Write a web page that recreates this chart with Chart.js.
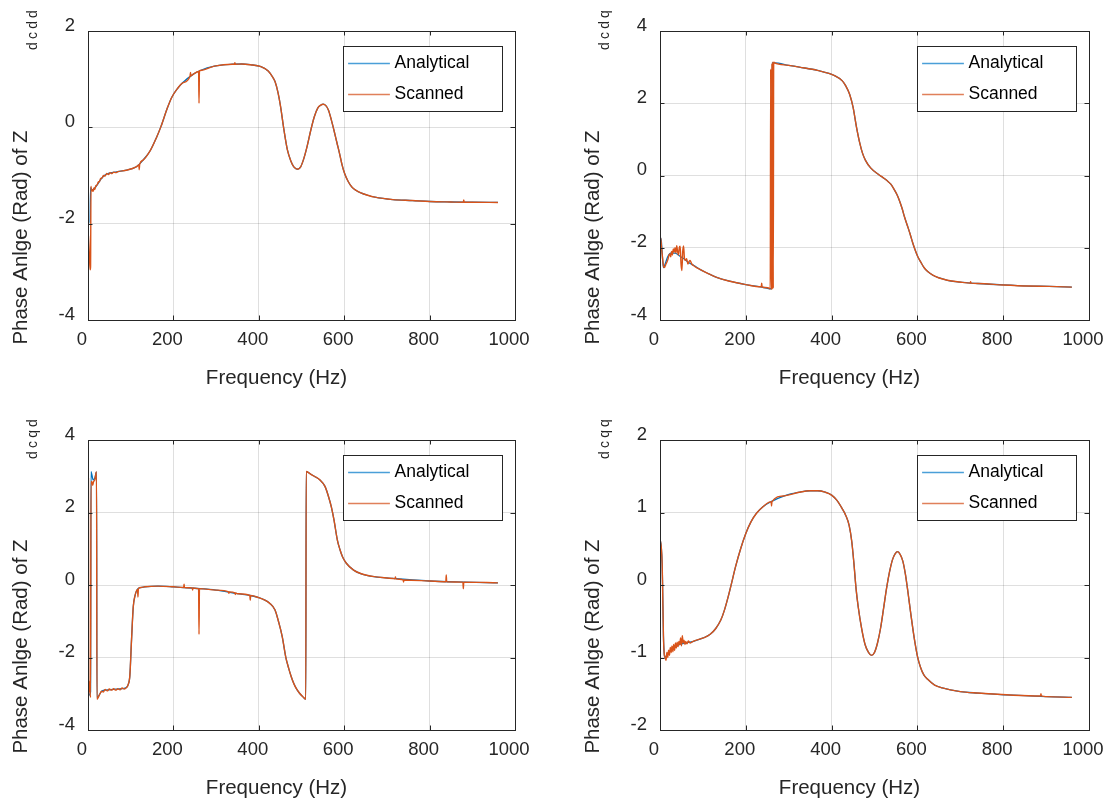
<!DOCTYPE html>
<html>
<head>
<meta charset="utf-8">
<title>Phase angle of Z</title>
<script src="https://cdn.jsdelivr.net/npm/chart.js@4.4.0/dist/chart.umd.min.js"></script>
<style>
  html, body { margin: 0; padding: 0; background: #fff; width: 1107px; height: 805px; overflow: hidden; position: relative; }
  canvas { position: absolute; }
</style>
</head>
<body>
<canvas id="dcdd" width="553" height="405" style="left:0;top:0"></canvas>
<canvas id="dcdq" width="580" height="405" style="left:553px;top:0"></canvas>
<canvas id="dcqd" width="553" height="400" style="left:0;top:405px"></canvas>
<canvas id="dcqq" width="580" height="400" style="left:553px;top:405px"></canvas>
<script>
// ---- data (frequency in Hz, phase in rad) ----
const xTicks = [0, 200, 400, 600, 800, 1000];

// dcdd
const freqDcddA = [5, 6, 10, 15, 21, 30, 38, 50, 70, 90, 113, 129, 146, 160, 171, 185, 196, 210, 221, 246, 263, 296, 338, 360, 380, 405, 422, 432, 438, 445, 451, 459, 467, 475, 482, 491, 498, 505, 513, 522, 530, 538, 545, 551, 557, 563, 570, 576, 583, 589, 595, 601, 609, 618, 628, 639, 655, 672, 714, 760, 800, 850, 900, 960];
const dcddAnalytical = [-1.98, -1.25, -1.3, -1.27, -1.2, -1.08, -1.0, -0.95, -0.92, -0.89, -0.82, -0.68, -0.48, -0.22, 0.02, 0.38, 0.62, 0.81, 0.92, 1.1, 1.18, 1.27, 1.31, 1.315, 1.3, 1.26, 1.17, 1.05, 0.95, 0.72, 0.43, -0.06, -0.47, -0.7, -0.82, -0.87, -0.82, -0.66, -0.4, -0.05, 0.22, 0.4, 0.46, 0.48, 0.45, 0.36, 0.15, -0.06, -0.32, -0.54, -0.78, -0.96, -1.12, -1.24, -1.31, -1.36, -1.41, -1.45, -1.5, -1.52, -1.54, -1.55, -1.555, -1.56];
const freqDcddS = [1, 3, 5, 6, 7, 8, 10, 12, 14, 16, 18, 21, 24, 27, 30, 33, 36, 40, 44, 48, 52, 56, 60, 65, 70, 90, 113, 119, 120, 121, 129, 146, 160, 171, 185, 196, 210, 221, 239, 240, 241, 246, 259, 260, 261, 263, 296, 338, 343, 344, 345, 360, 380, 405, 422, 432, 438, 445, 451, 459, 467, 475, 482, 491, 498, 505, 513, 522, 530, 538, 545, 551, 557, 563, 570, 576, 583, 589, 595, 601, 609, 618, 628, 639, 655, 672, 714, 760, 800, 850, 879, 880, 881, 900, 960];
const dcddScanned = [-2.25, -2.6, -2.96, -2.9, -1.22, -1.32, -1.3, -1.33, -1.26, -1.29, -1.22, -1.2, -1.14, -1.12, -1.06, -1.05, -1.0, -1.01, -0.96, -0.98, -0.94, -0.96, -0.93, -0.94, -0.92, -0.89, -0.82, -0.78, -0.88, -0.77, -0.68, -0.48, -0.22, 0.02, 0.38, 0.62, 0.81, 0.92, 1.06, 1.14, 1.07, 1.1, 1.16, 0.5, 1.17, 1.18, 1.27, 1.31, 1.31, 1.34, 1.31, 1.315, 1.3, 1.26, 1.17, 1.05, 0.95, 0.72, 0.43, -0.06, -0.47, -0.7, -0.82, -0.87, -0.82, -0.66, -0.4, -0.05, 0.22, 0.4, 0.46, 0.48, 0.45, 0.36, 0.15, -0.06, -0.32, -0.54, -0.78, -0.96, -1.12, -1.24, -1.31, -1.36, -1.41, -1.45, -1.5, -1.52, -1.54, -1.55, -1.555, -1.51, -1.555, -1.555, -1.56];

// dcdq
const freqDcdqA = [1, 3, 6, 8, 12, 18, 25, 35, 45, 55, 66, 80, 93, 110, 132, 160, 200, 242, 260, 261, 267, 300, 325, 367, 408, 425, 433, 442, 450, 458, 466, 472, 479, 491, 508, 520, 529, 538, 545, 552, 558, 564, 570, 577, 583, 589, 595, 601, 608, 615, 624, 636, 649, 670, 699, 741, 800, 860, 907, 960];
const dcdqAnalytical = [-1.72, -1.8, -2.3, -2.55, -2.45, -2.25, -2.15, -2.15, -2.22, -2.3, -2.4, -2.5, -2.6, -2.7, -2.82, -2.92, -3.02, -3.1, -3.14, 3.12, 3.12, 3.05, 3.0, 2.91, 2.76, 2.62, 2.48, 2.25, 1.89, 1.34, 0.88, 0.62, 0.42, 0.21, 0.04, -0.06, -0.14, -0.24, -0.37, -0.52, -0.69, -0.9, -1.15, -1.4, -1.62, -1.86, -2.07, -2.25, -2.4, -2.54, -2.66, -2.76, -2.83, -2.9, -2.95, -2.99, -3.03, -3.06, -3.07, -3.09];
const freqDcdqS = [0.5, 1.5, 4, 8, 10, 14, 16, 19, 21, 23, 25, 27, 29, 31, 33, 35, 37, 39, 41, 43, 45, 47, 49, 51, 53, 55, 57, 59, 62, 65, 68, 70, 74, 78, 85, 93, 110, 132, 160, 200, 236, 237, 238, 242, 256, 257, 258, 259, 260, 261, 262, 263, 264, 265, 267, 300, 325, 367, 408, 425, 433, 442, 450, 458, 466, 472, 479, 491, 508, 520, 529, 538, 545, 552, 558, 564, 570, 577, 583, 589, 595, 601, 608, 615, 624, 636, 649, 670, 699, 723, 724, 725, 741, 800, 860, 907, 960];
const dcdqScanned = [-1.8, -1.72, -2.05, -2.5, -2.55, -2.45, -2.4, -2.3, -2.2, -2.17, -2.25, -2.1, -2.2, -2.03, -2.12, -2.0, -2.15, -1.94, -2.1, -2.2, -2.0, -1.96, -2.45, -2.63, -2.1, -1.95, -2.3, -2.35, -2.3, -2.45, -2.38, -2.35, -2.45, -2.49, -2.55, -2.6, -2.7, -2.82, -2.92, -3.02, -3.08, -2.98, -3.08, -3.1, -3.13, -3.14, 2.95, -3.15, -3.15, 3.1, -3.15, 3.15, -3.12, 3.14, 3.12, 3.05, 3.0, 2.91, 2.76, 2.62, 2.48, 2.25, 1.89, 1.34, 0.88, 0.62, 0.42, 0.21, 0.04, -0.06, -0.14, -0.24, -0.37, -0.52, -0.69, -0.9, -1.15, -1.4, -1.62, -1.86, -2.07, -2.25, -2.4, -2.54, -2.66, -2.76, -2.83, -2.9, -2.95, -2.98, -2.94, -2.98, -2.99, -3.03, -3.06, -3.07, -3.09];

// dcqd
const freqDcqdA = [1, 6, 7, 12, 16, 20, 21, 24, 28, 32, 40, 50, 60, 70, 80, 90, 94, 98, 102, 106, 110, 117, 124, 133, 164, 200, 250, 300, 350, 380, 400, 413, 425, 438, 446, 455, 463, 470, 476, 482, 488, 495, 503, 510, 511, 520, 530, 543, 555, 563, 570, 576, 584, 590, 596, 605, 622, 640, 670, 714, 800, 881, 960];
const dcqdAnalytical = [-3.05, -2.95, 3.13, 2.9, 2.95, 3.12, -3.12, -3.08, -3.0, -2.93, -2.9, -2.89, -2.88, -2.87, -2.86, -2.83, -2.75, -2.5, -1.5, -0.6, -0.3, -0.1, -0.07, -0.05, -0.03, -0.05, -0.09, -0.14, -0.24, -0.29, -0.35, -0.41, -0.5, -0.69, -1.0, -1.43, -1.98, -2.3, -2.53, -2.72, -2.86, -2.98, -3.08, -3.15, 3.13, 3.07, 3.0, 2.9, 2.72, 2.45, 2.15, 1.8, 1.24, 0.98, 0.78, 0.6, 0.41, 0.31, 0.23, 0.18, 0.11, 0.08, 0.06];
const freqDcqdS = [1, 2, 3, 4, 6, 7, 9, 11, 13, 16, 19, 20, 21, 24, 28, 32, 36, 40, 45, 50, 55, 60, 65, 70, 75, 80, 85, 90, 94, 98, 102, 106, 110, 116, 117, 118, 124, 133, 164, 200, 224, 225, 226, 244, 245, 246, 250, 259, 260, 261, 300, 329, 330, 331, 344, 345, 346, 350, 379, 380, 381, 400, 413, 425, 438, 446, 455, 463, 470, 476, 482, 488, 495, 503, 510, 511, 520, 530, 543, 555, 563, 570, 576, 584, 590, 596, 605, 622, 640, 670, 714, 719, 720, 721, 738, 739, 740, 800, 838, 839, 840, 878, 879, 880, 960];
const dcqdScanned = [2.95, -2.95, -2.65, -2.85, -3.1, 2.85, 2.85, 2.75, 2.85, 2.9, 3.1, 3.12, -3.15, -3.1, -3.0, -2.93, -2.95, -2.88, -2.92, -2.87, -2.9, -2.86, -2.9, -2.86, -2.89, -2.84, -2.87, -2.83, -2.75, -2.5, -1.5, -0.6, -0.3, -0.12, -0.33, -0.1, -0.07, -0.05, -0.03, -0.05, -0.07, 0.02, -0.07, -0.08, -0.14, -0.08, -0.09, -0.1, -1.36, -0.1, -0.14, -0.19, -0.23, -0.19, -0.22, -0.26, -0.22, -0.24, -0.29, -0.42, -0.29, -0.35, -0.41, -0.5, -0.69, -1.0, -1.43, -1.98, -2.3, -2.53, -2.72, -2.86, -2.98, -3.08, -3.15, 3.13, 3.07, 3.0, 2.9, 2.72, 2.45, 2.15, 1.8, 1.24, 0.98, 0.78, 0.6, 0.41, 0.31, 0.23, 0.18, 0.17, 0.22, 0.17, 0.14, 0.08, 0.14, 0.11, 0.09, 0.28, 0.09, 0.08, -0.1, 0.08, 0.06];

// dcqq
const freqDcqqA = [0.5, 3, 5, 6, 8, 10, 12, 17, 25, 42, 60, 76, 101, 117, 130, 142, 150, 159, 167, 176, 188, 200, 212, 225, 240, 259, 290, 325, 350, 367, 385, 400, 412, 425, 433, 441, 447, 452, 457, 462, 470, 478, 486, 493, 500, 507, 514, 521, 528, 535, 542, 548, 554, 560, 566, 572, 578, 584, 590, 595, 600, 607, 615, 624, 640, 658, 700, 741, 824, 900, 960];
const dcqqAnalytical = [0.62, 0.52, 0.3, 0.0, -0.7, -0.96, -1.0, -0.95, -0.9, -0.83, -0.8, -0.78, -0.73, -0.68, -0.6, -0.48, -0.35, -0.16, 0.03, 0.25, 0.5, 0.71, 0.87, 0.99, 1.08, 1.15, 1.23, 1.28, 1.3, 1.3, 1.28, 1.24, 1.17, 1.05, 0.96, 0.82, 0.6, 0.3, -0.05, -0.3, -0.6, -0.82, -0.93, -0.97, -0.93, -0.8, -0.6, -0.33, -0.05, 0.18, 0.35, 0.43, 0.46, 0.42, 0.33, 0.15, -0.1, -0.37, -0.63, -0.82, -0.98, -1.13, -1.24, -1.3, -1.38, -1.42, -1.47, -1.49, -1.52, -1.54, -1.55];
const freqDcqqS = [0.5, 3, 5, 6, 8, 10, 12, 14, 16, 18, 20, 22, 24, 26, 28, 30, 32, 34, 36, 38, 40, 42, 44, 46, 48, 50, 52, 54, 56, 58, 60, 63, 66, 70, 76, 101, 117, 130, 142, 150, 159, 167, 176, 188, 200, 212, 225, 240, 259, 260, 261, 290, 325, 350, 367, 385, 400, 412, 425, 433, 441, 447, 452, 457, 462, 470, 478, 486, 493, 500, 507, 514, 521, 528, 535, 542, 548, 554, 560, 566, 572, 578, 584, 590, 595, 600, 607, 615, 624, 640, 658, 700, 741, 824, 887, 888, 889, 900, 960];
const dcqqScanned = [0.62, 0.52, 0.3, 0.0, -0.7, -0.96, -1.0, -1.04, -0.93, -1.0, -0.9, -0.97, -0.86, -0.93, -0.84, -0.92, -0.82, -0.9, -0.8, -0.87, -0.79, -0.85, -0.78, -0.82, -0.73, -0.84, -0.7, -0.8, -0.76, -0.82, -0.78, -0.81, -0.77, -0.8, -0.78, -0.73, -0.68, -0.6, -0.48, -0.35, -0.16, 0.03, 0.25, 0.5, 0.71, 0.87, 0.99, 1.08, 1.15, 1.09, 1.15, 1.23, 1.28, 1.3, 1.3, 1.28, 1.24, 1.17, 1.05, 0.96, 0.82, 0.6, 0.3, -0.05, -0.3, -0.6, -0.82, -0.93, -0.97, -0.93, -0.8, -0.6, -0.33, -0.05, 0.18, 0.35, 0.43, 0.46, 0.42, 0.33, 0.15, -0.1, -0.37, -0.63, -0.82, -0.98, -1.13, -1.24, -1.3, -1.38, -1.42, -1.47, -1.49, -1.52, -1.53, -1.5, -1.53, -1.54, -1.55];

const FONT = "'Liberation Sans', Arial, Helvetica, sans-serif";
const TEXT = '#262626';
const BLUE = '#0072BD';
const ORANGE = '#D95319';

// axes frame, inner ticks, labels and legend drawn MATLAB style
const matlabFrame = {
  id: 'matlabFrame',
  afterDraw(chart, args, opts) {
    const { ctx, chartArea: a } = chart;
    const xs = chart.scales.x, ys = chart.scales.y;
    ctx.save();
    ctx.strokeStyle = TEXT;
    ctx.lineWidth = 1;
    ctx.beginPath();
    xs.ticks.forEach(t => {
      const px = Math.round(xs.getPixelForValue(t.value)) + 0.5;
      ctx.moveTo(px, a.bottom); ctx.lineTo(px, a.bottom - 4.5);
      ctx.moveTo(px, a.top); ctx.lineTo(px, a.top + 4.5);
    });
    ys.ticks.forEach(t => {
      const py = Math.round(ys.getPixelForValue(t.value)) + 0.5;
      ctx.moveTo(a.left, py); ctx.lineTo(a.left + 4.5, py);
      ctx.moveTo(a.right, py); ctx.lineTo(a.right - 4.5, py);
    });
    ctx.stroke();
    ctx.strokeRect(Math.round(a.left) + 0.5, Math.round(a.top) + 0.5,
      Math.round(a.right - a.left), Math.round(a.bottom - a.top));

    // legend
    const lw = 158.8, lh = 65.3;
    const lx = Math.round(a.right - 13.5 - lw) + 0.5, ly = Math.round(a.top + 14.7) + 0.5;
    ctx.fillStyle = '#fff';
    ctx.fillRect(lx, ly, lw, lh);
    ctx.strokeStyle = TEXT;
    ctx.strokeRect(lx, ly, Math.round(lw), Math.round(lh));
    ctx.font = '17.5px ' + FONT;
    ctx.textBaseline = 'middle';
    ctx.textAlign = 'left';
    const legendColors = ['#4a9fd8', '#e0805a'];
    chart.data.datasets.forEach((ds, i) => {
      const ry = Math.round(ly + 16 + i * 31) + 0.5;
      ctx.strokeStyle = legendColors[i];
      ctx.lineWidth = 1.5;
      ctx.beginPath();
      ctx.moveTo(lx + 4.6, ry); ctx.lineTo(lx + 46.4, ry);
      ctx.stroke();
      ctx.fillStyle = '#000';
      ctx.fillText(ds.label, lx + 51, ry);
    });

    // axis titles
    ctx.fillStyle = TEXT;
    ctx.font = '20.5px ' + FONT;
    ctx.textAlign = 'center';
    ctx.fillText('Frequency (Hz)', (a.left + a.right) / 2 - 25, a.bottom + 58);
    ctx.save();
    ctx.translate(a.left - 67, a.top + 206.5);
    ctx.rotate(-Math.PI / 2);
    ctx.fillText('Phase Anlge (Rad) of Z', 0, 0);
    ctx.restore();

    // subscript, spread out
    ctx.save();
    ctx.translate(a.left - 55, a.top + 21);
    ctx.rotate(-Math.PI / 2);
    ctx.font = '14px ' + FONT;
    opts.sub.split('').forEach((ch, i) => ctx.fillText(ch, 6 + i * 10.6, 0));
    ctx.restore();
    ctx.restore();
  }
};

const pts = (f, v) => f.map((x, i) => ({ x: x, y: v[i] }));

function makeChart(id, box, x0, y0, w, h, freqA, valA, freqS, valS, yMin, yMax, yStep) {
  const ctx = document.getElementById(id).getContext('2d');
  return new Chart(ctx, {
    type: 'line',
    data: {
      datasets: [
        { label: 'Analytical', data: pts(freqA, valA), borderColor: BLUE, borderWidth: 1.3,
          pointRadius: 0, cubicInterpolationMode: 'monotone', order: 2 },
        { label: 'Scanned', data: pts(freqS, valS), borderColor: ORANGE, borderWidth: 1.4,
          pointRadius: 0, cubicInterpolationMode: 'monotone', order: 1 }
      ]
    },
    options: {
      responsive: false,
      animation: false,
      devicePixelRatio: 1,
      layout: { padding: { left: 0, top: box[1] - y0, right: x0 + w - box[2], bottom: 0 } },
      plugins: { legend: { display: false }, tooltip: { enabled: false }, matlabFrame: { sub: id } },
      scales: {
        x: {
          type: 'linear', min: 0, max: 1000,
          afterBuildTicks: s => { s.ticks = xTicks.map(v => ({ value: v })); },
          ticks: { autoSkip: false, maxRotation: 0, padding: 9, labelOffset: -6, color: TEXT,
                   font: { family: FONT, size: 18.5 }, callback: v => String(v) },
          grid: { color: 'rgba(38,38,38,0.15)', drawTicks: false },
          border: { display: false },
          afterFit: s => { s.height = y0 + h - box[3]; }
        },
        y: {
          min: yMin, max: yMax,
          ticks: { stepSize: yStep, padding: 13, labelOffset: -5.5, color: TEXT,
                   font: { family: FONT, size: 18.5 }, callback: v => String(v) },
          grid: { color: 'rgba(38,38,38,0.15)', drawTicks: false },
          border: { display: false },
          afterFit: s => { s.width = box[0] - x0; }
        }
      }
    },
    plugins: [matlabFrame]
  });
}

makeChart('dcdd', [88, 31, 515, 320], 0, 0, 553, 405, freqDcddA, dcddAnalytical, freqDcddS, dcddScanned, -4, 2, 2);
makeChart('dcdq', [660, 31, 1089, 320], 553, 0, 580, 405, freqDcdqA, dcdqAnalytical, freqDcdqS, dcdqScanned, -4, 4, 2);
makeChart('dcqd', [88, 440, 515, 730], 0, 405, 553, 400, freqDcqdA, dcqdAnalytical, freqDcqdS, dcqdScanned, -4, 4, 2);
makeChart('dcqq', [660, 440, 1089, 730], 553, 405, 580, 400, freqDcqqA, dcqqAnalytical, freqDcqqS, dcqqScanned, -2, 2, 1);
</script>
</body>
</html>
